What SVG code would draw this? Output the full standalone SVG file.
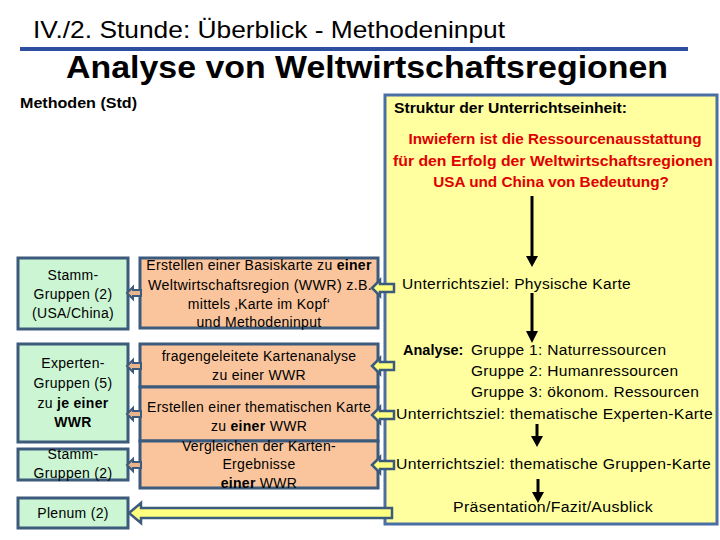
<svg xmlns="http://www.w3.org/2000/svg" width="720" height="540" viewBox="0 0 720 540">
<style>
text{font-family:"Liberation Sans",Arial,sans-serif;fill:#000}
.t13{font-size:14px;letter-spacing:0.3px}
.c{text-anchor:middle}
.b{font-weight:bold}
.g{fill:#ccf5d4;stroke:#3b5a7c;stroke-width:3}
.o{fill:#fac59c;stroke:#3b5a7c;stroke-width:3}
.ya{fill:#ffff80;stroke:#3b5a7c;stroke-width:2.5}
.ta{fill:#e8b48e;stroke:#3b5a7c;stroke-width:2}
.bl{stroke:#000;stroke-width:3}
.r{fill:#e00000;font-weight:bold;font-size:15.3px}
.s15{font-size:15.5px;letter-spacing:0.3px}
</style>
<rect width="720" height="540" fill="#fff"/>
<g id="header">
<text x="33" y="38" font-size="24" textLength="472" lengthAdjust="spacingAndGlyphs">IV./2. Stunde: Überblick - Methodeninput</text>
<rect x="20" y="47" width="668" height="4" fill="#2e4ea0"/>
<text x="66" y="78" font-size="32" font-weight="bold" textLength="602" lengthAdjust="spacingAndGlyphs">Analyse von Weltwirtschaftsregionen</text>
<text x="20" y="108" font-size="14" font-weight="bold" textLength="117" lengthAdjust="spacingAndGlyphs">Methoden (Std)</text>
</g>
<g id="struktur">
<rect x="385" y="95" width="332" height="429" fill="#ffffa0" stroke="#4a6fa5" stroke-width="3"/>
<text x="394" y="113" font-size="14" font-weight="bold" textLength="233" lengthAdjust="spacingAndGlyphs">Struktur der Unterrichtseinheit:</text>
<text class="r c" x="555" y="144" textLength="293" lengthAdjust="spacingAndGlyphs">Inwiefern ist die Ressourcenausstattung</text>
<text class="r c" x="553" y="166" textLength="320" lengthAdjust="spacingAndGlyphs">für den Erfolg der Weltwirtschaftsregionen</text>
<text class="r c" x="551" y="187">USA und China von Bedeutung?</text>
<text class="s15" x="402" y="289" textLength="229" lengthAdjust="spacingAndGlyphs">Unterrichtsziel: Physische Karte</text>
<text class="s15" y="355"><tspan class="b" x="403" style="font-size:14.5px;letter-spacing:0">Analyse:</tspan><tspan x="471">Gruppe 1: Naturressourcen</tspan></text>
<text class="s15" x="471" y="376">Gruppe 2: Humanressourcen</text>
<text class="s15" x="471" y="397">Gruppe 3: ökonom. Ressourcen</text>
<text class="s15" x="396" y="419" textLength="317" lengthAdjust="spacingAndGlyphs">Unterrichtsziel: thematische Experten-Karte</text>
<text class="s15" x="396" y="469" textLength="315" lengthAdjust="spacingAndGlyphs">Unterrichtsziel: thematische Gruppen-Karte</text>
<text class="s15 c" x="553" y="512" textLength="200" lengthAdjust="spacingAndGlyphs">Präsentation/Fazit/Ausblick</text>
</g>
<g id="green1"><rect class="g" x="18" y="258" width="110" height="71"/>
<text class="t13 c" x="73" y="280">Stamm-</text><text class="t13 c" x="73" y="299">Gruppen (2)</text><text class="t13 c" x="73" y="318">(USA/China)</text></g>
<g id="green2"><rect class="g" x="18" y="344" width="110" height="98"/>
<text class="t13 c" x="73" y="368">Experten-</text><text class="t13 c" x="73" y="388">Gruppen (5)</text><text class="t13 c" x="73" y="408">zu <tspan class="b">je einer</tspan></text><text class="t13 c b" x="73" y="427">WWR</text></g>
<g id="green3"><rect class="g" x="18" y="449" width="110" height="31"/>
<text class="t13 c" x="73" y="459">Stamm-</text><text class="t13 c" x="73" y="478">Gruppen (2)</text></g>
<g id="plenum"><rect class="g" x="18" y="498" width="110" height="30"/>
<text class="t13 c" x="73" y="518">Plenum (2)</text></g>
<g id="orange1"><rect class="o" x="140" y="258" width="238" height="70"/>
<text class="t13 c" x="259" y="270">Erstellen einer Basiskarte zu <tspan class="b">einer</tspan></text>
<text class="t13 c" x="260" y="290" textLength="224" lengthAdjust="spacingAndGlyphs">Weltwirtschaftsregion (WWR) z.B.</text>
<text class="t13 c" x="259" y="309">mittels ‚Karte im Kopf‘</text>
<text class="t13 c" x="259" y="327">und Methodeninput</text></g>
<g id="orange2"><rect class="o" x="140" y="344" width="238" height="43"/>
<text class="t13 c" x="259" y="361">fragengeleitete Kartenanalyse</text>
<text class="t13 c" x="259" y="380">zu einer WWR</text></g>
<g id="orange3"><rect class="o" x="140" y="387" width="238" height="54"/>
<text class="t13 c" x="259" y="412" textLength="224" lengthAdjust="spacingAndGlyphs">Erstellen einer thematischen Karte</text>
<text class="t13 c" x="259" y="431">zu <tspan class="b">einer</tspan> WWR</text></g>
<g id="orange4"><rect class="o" x="140" y="441" width="238" height="47"/>
<text class="t13 c" x="259" y="451">Vergleichen der Karten-</text>
<text class="t13 c" x="259" y="469">Ergebnisse</text>
<text class="t13 c" x="259" y="488"><tspan class="b">einer</tspan> WWR</text></g>
<g id="connectors">
<path class="ya" d="M372,288 L380,280 L380,284 L394,284 L394,292 L380,292 L380,296 Z"/>
<path class="ya" d="M372,366 L380,358 L380,362 L394,362 L394,370 L380,370 L380,374 Z"/>
<path class="ya" d="M372,415 L380,407 L380,411 L394,411 L394,419 L380,419 L380,423 Z"/>
<path class="ya" d="M372,465 L380,457 L380,461 L394,461 L394,469 L380,469 L380,473 Z"/>
<path class="ya" d="M129,513 L141,503 L141,508 L392,508 L392,518 L141,518 L141,523 Z"/>
<path class="ta" d="M127,293 L133,287 L133,290 L141,290 L141,296 L133,296 L133,299 Z"/>
<path class="ta" d="M127,366 L133,360 L133,363 L141,363 L141,369 L133,369 L133,372 Z"/>
<path class="ta" d="M127,414 L133,408 L133,411 L141,411 L141,417 L133,417 L133,420 Z"/>
<path class="ta" d="M127,465 L133,459 L133,462 L141,462 L141,468 L133,468 L133,471 Z"/>
<line class="bl" x1="532" y1="196" x2="532" y2="258"/><path d="M526,256 L538,256 L532,267 Z"/>
<line class="bl" x1="532" y1="293" x2="532" y2="333"/><path d="M526,331 L538,331 L532,343 Z"/>
<line class="bl" x1="537" y1="424" x2="537" y2="438"/><path d="M531,436 L543,436 L537,447 Z"/>
<line class="bl" x1="538" y1="479" x2="538" y2="494"/><path d="M532,492 L544,492 L538,503 Z"/>
</g>
</svg>
